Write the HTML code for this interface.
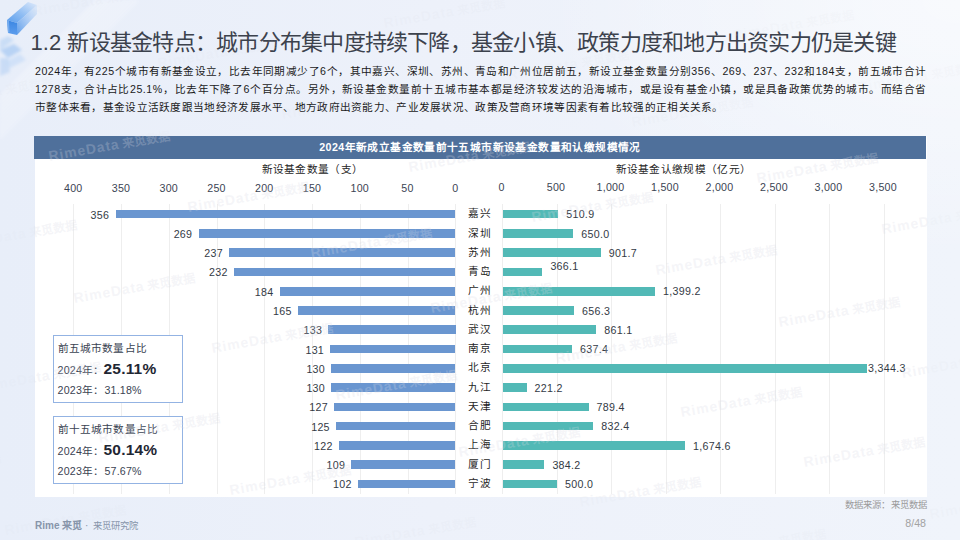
<!DOCTYPE html><html lang="zh-CN"><head><meta charset="utf-8"><style>
*{margin:0;padding:0;box-sizing:border-box}
html,body{width:960px;height:540px;overflow:hidden}
body{position:relative;font-family:"Liberation Sans",sans-serif;color:#262626;
 background:radial-gradient(ellipse 420px 260px at 960px 0px,rgba(255,255,255,0.55),rgba(255,255,255,0)),linear-gradient(90deg,#e8eef9 0%,#edf1fa 45%,#f0f4fb 100%);}
.a{position:absolute;white-space:nowrap}
.t{font-size:22px;color:#3c424d;line-height:1;letter-spacing:-0.76px}
.p{font-size:10.67px;color:#1a1a1a;line-height:18px;left:35px;width:891px;text-align:justify;text-align-last:justify}
.d{letter-spacing:0.5px}
.panel{left:35px;top:136px;width:892px;height:361px;background:#fff}
.hdr{left:34px;top:136px;width:892px;height:23px;background:#4f709b;color:#fff;font-weight:bold;font-size:10.67px;line-height:23px;text-align:center;letter-spacing:0.39px}
.ax{font-size:10.67px;color:#262626;line-height:1;letter-spacing:0.33px}
.tk{font-size:10.67px;color:#3b4453;line-height:1;text-align:center;width:40px;letter-spacing:0.3px}
.gl{width:1px;background:#eeeeee;top:204px;height:290px}
.lb{background:#6a96d0;height:8.6px}
.rb{background:#52b9b6;height:8.6px}
.vl{font-size:10.67px;color:#333a45;line-height:1;letter-spacing:0.3px}
.ct{font-size:10.67px;color:#1f1f1f;line-height:1;width:40px;text-align:center;letter-spacing:1px}
.box{left:52.5px;width:130px;height:67.5px;background:#fff;border:1px solid #93b3e3}
.bx{font-size:10.67px;color:#3a4352;line-height:1;letter-spacing:0.2px}
.wm{font-size:14px;line-height:14px;color:rgba(215,218,228,0.27);transform:rotate(-10deg);transform-origin:0 100%;letter-spacing:0.9px;font-weight:bold}.wmo .wm{color:rgba(215,218,228,0.1)}.wm span{font-size:12px;letter-spacing:0.3px;margin-left:3px}
.big{font-size:15.5px;font-weight:bold;color:#1f2733;letter-spacing:0.2px}
</style></head><body>
<svg class="a" style="left:0;top:0" width="140" height="140" viewBox="0 0 140 140">
<defs>
<linearGradient id="gt" x1="0" y1="1" x2="1" y2="0"><stop offset="0" stop-color="#5a9deb"/><stop offset="0.45" stop-color="#8fbdf3"/><stop offset="1" stop-color="#dfeafb"/></linearGradient>
<linearGradient id="gf" x1="0" y1="0" x2="0" y2="1"><stop offset="0" stop-color="#3b86e2"/><stop offset="1" stop-color="#5d9ded"/></linearGradient>
<linearGradient id="gs" x1="0" y1="1" x2="1" y2="0"><stop offset="0" stop-color="#5c9cea"/><stop offset="1" stop-color="#d8e7fb" stop-opacity="0.6"/></linearGradient>
<linearGradient id="gw" x1="0" y1="0" x2="1" y2="1"><stop offset="0" stop-color="#ffffff" stop-opacity="0.7"/><stop offset="1" stop-color="#ffffff" stop-opacity="0"/></linearGradient>
<filter id="bl"><feGaussianBlur stdDeviation="1.5"/></filter>
<filter id="bl2"><feGaussianBlur stdDeviation="0.35"/></filter>
</defs>
<polygon points="0,95 95,0 140,0 0,140" fill="url(#gw)" opacity="0.5" filter="url(#bl)"/>
<g filter="url(#bl)">
<polygon points="0,40 8,36 14,40 0,50" fill="#bcd5f5" opacity="0.7"/>
<polygon points="0,50 14,44 22,50 8,58" fill="#a8c9f3" opacity="0.75"/>
<polygon points="0,58 8,58 10,72 0,76" fill="#b5d0f4" opacity="0.6"/>
<polygon points="4,62 20,54 26,60 10,68" fill="#c2d9f6" opacity="0.6"/>
</g>
<g filter="url(#bl2)">
<polygon points="7,20 28,2 37,5 17,23" fill="url(#gt)"/>
<polygon points="17,23 37,5 37,14 17,35" fill="url(#gs)"/>
<polygon points="7,20 17,23 17,35 8,33" fill="url(#gf)"/>
<polygon points="7,20 9,21 9.5,32 8,33" fill="#7fb3f0" opacity="0.8"/>
</g>
</svg>
<div class="a t" style="left:30.5px;top:31.5px"><span style="letter-spacing:0.05px">1.2 </span>新设基金特点：城市分布集中度持续下降，基金小镇、政策力度和地方出资实力仍是关键</div>
<div class="a p" style="top:62.0px"><span class="d">2024</span>年，有<span class="d">225</span>个城市有新基金设立，比去年同期减少了<span class="d">6</span>个，其中嘉兴、深圳、苏州、青岛和广州位居前五，新设立基金数量分别<span class="d">356</span>、<span class="d">269</span>、<span class="d">237</span>、<span class="d">232</span>和<span class="d">184</span>支，前五城市合计</div>
<div class="a p" style="top:80.0px"><span class="d">1278</span>支，合计占比<span class="d">25.1%</span>，比去年下降了<span class="d">6</span>个百分点。另外，新设基金数量前十五城市基本都是经济较发达的沿海城市，或是设有基金小镇，或是具备政策优势的城市。而结合省</div>
<div class="a p" style="top:98.0px;text-align-last:left;letter-spacing:0.29px">市整体来看，基金设立活跃度跟当地经济发展水平、地方政府出资能力、产业发展状况、政策及营商环境等因素有着比较强的正相关关系。</div>
<div class="a panel"></div>
<div class="a hdr">2024年新成立基金数量前十五城市新设基金数量和认缴规模情况</div>
<div class="a ax" style="left:261.5px;top:164px">新设基金数量（支）</div>
<div class="a ax" style="left:615.5px;top:163.5px">新设基金认缴规模（亿元）</div>
<div class="a gl" style="left:73px"></div>
<div class="a tk" style="left:53.25px;top:183px">400</div>
<div class="a gl" style="left:121px"></div>
<div class="a tk" style="left:101.00px;top:183px">350</div>
<div class="a gl" style="left:169px"></div>
<div class="a tk" style="left:148.75px;top:183px">300</div>
<div class="a gl" style="left:217px"></div>
<div class="a tk" style="left:196.50px;top:183px">250</div>
<div class="a gl" style="left:264px"></div>
<div class="a tk" style="left:244.25px;top:183px">200</div>
<div class="a gl" style="left:312px"></div>
<div class="a tk" style="left:292.00px;top:183px">150</div>
<div class="a gl" style="left:360px"></div>
<div class="a tk" style="left:339.75px;top:183px">100</div>
<div class="a gl" style="left:408px"></div>
<div class="a tk" style="left:387.50px;top:183px">50</div>
<div class="a gl" style="left:455px"></div>
<div class="a tk" style="left:435.25px;top:183px">0</div>
<div class="a gl" style="left:502px"></div>
<div class="a tk" style="left:481.50px;top:182.3px">0</div>
<div class="a gl" style="left:557px"></div>
<div class="a tk" style="left:536.00px;top:182.3px">500</div>
<div class="a gl" style="left:611px"></div>
<div class="a tk" style="left:590.50px;top:182.3px">1,000</div>
<div class="a gl" style="left:666px"></div>
<div class="a tk" style="left:645.00px;top:182.3px">1,500</div>
<div class="a gl" style="left:720px"></div>
<div class="a tk" style="left:699.50px;top:182.3px">2,000</div>
<div class="a gl" style="left:775px"></div>
<div class="a tk" style="left:754.00px;top:182.3px">2,500</div>
<div class="a gl" style="left:829px"></div>
<div class="a tk" style="left:808.50px;top:182.3px">3,000</div>
<div class="a gl" style="left:884px"></div>
<div class="a tk" style="left:863.00px;top:182.3px">3,500</div>
<div class="a lb" style="left:115.52px;top:209.90px;width:339.98px"></div>
<div class="a vl" style="right:850.78px;top:209.70px">356</div>
<div class="a ct" style="left:459.50px;top:208.30px">嘉兴</div>
<div class="a rb" style="left:502.50px;top:209.90px;width:55.69px"></div>
<div class="a vl" style="left:566.19px;top:209.40px">510.9</div>
<div class="a lb" style="left:198.61px;top:229.16px;width:256.89px"></div>
<div class="a vl" style="right:767.69px;top:228.96px">269</div>
<div class="a ct" style="left:459.50px;top:227.56px">深圳</div>
<div class="a rb" style="left:502.50px;top:229.16px;width:70.85px"></div>
<div class="a vl" style="left:581.35px;top:228.66px">650.0</div>
<div class="a lb" style="left:229.17px;top:248.42px;width:226.33px"></div>
<div class="a vl" style="right:737.13px;top:248.22px">237</div>
<div class="a ct" style="left:459.50px;top:246.82px">苏州</div>
<div class="a rb" style="left:502.50px;top:248.42px;width:98.29px"></div>
<div class="a vl" style="left:608.79px;top:247.92px">901.7</div>
<div class="a lb" style="left:233.94px;top:267.68px;width:221.56px"></div>
<div class="a vl" style="right:732.36px;top:267.48px">232</div>
<div class="a ct" style="left:459.50px;top:266.08px">青岛</div>
<div class="a rb" style="left:502.50px;top:267.68px;width:39.90px"></div>
<div class="a vl" style="left:550.40px;top:261.18px">366.1</div>
<div class="a lb" style="left:279.78px;top:286.94px;width:175.72px"></div>
<div class="a vl" style="right:686.52px;top:286.74px">184</div>
<div class="a ct" style="left:459.50px;top:285.34px">广州</div>
<div class="a rb" style="left:502.50px;top:286.94px;width:152.51px"></div>
<div class="a vl" style="left:663.01px;top:286.44px">1,399.2</div>
<div class="a lb" style="left:297.93px;top:306.20px;width:157.57px"></div>
<div class="a vl" style="right:668.38px;top:306.00px">165</div>
<div class="a ct" style="left:459.50px;top:304.60px">杭州</div>
<div class="a rb" style="left:502.50px;top:306.20px;width:71.54px"></div>
<div class="a vl" style="left:582.04px;top:305.70px">656.3</div>
<div class="a lb" style="left:328.49px;top:325.46px;width:127.02px"></div>
<div class="a vl" style="right:637.81px;top:325.26px">133</div>
<div class="a ct" style="left:459.50px;top:323.86px">武汉</div>
<div class="a rb" style="left:502.50px;top:325.46px;width:93.86px"></div>
<div class="a vl" style="left:604.36px;top:324.96px">861.1</div>
<div class="a lb" style="left:330.39px;top:344.72px;width:125.10px"></div>
<div class="a vl" style="right:635.90px;top:344.52px">131</div>
<div class="a ct" style="left:459.50px;top:343.12px">南京</div>
<div class="a rb" style="left:502.50px;top:344.72px;width:69.48px"></div>
<div class="a vl" style="left:579.98px;top:344.22px">637.4</div>
<div class="a lb" style="left:331.35px;top:363.98px;width:124.15px"></div>
<div class="a vl" style="right:634.95px;top:363.78px">130</div>
<div class="a ct" style="left:459.50px;top:362.38px">北京</div>
<div class="a rb" style="left:502.50px;top:363.98px;width:364.53px"></div>
<div class="a vl" style="left:868.03px;top:363.48px">3,344.3</div>
<div class="a lb" style="left:331.35px;top:383.24px;width:124.15px"></div>
<div class="a vl" style="right:634.95px;top:383.04px">130</div>
<div class="a ct" style="left:459.50px;top:381.64px">九江</div>
<div class="a rb" style="left:502.50px;top:383.24px;width:24.11px"></div>
<div class="a vl" style="left:534.61px;top:382.74px">221.2</div>
<div class="a lb" style="left:334.22px;top:402.50px;width:121.28px"></div>
<div class="a vl" style="right:632.08px;top:402.30px">127</div>
<div class="a ct" style="left:459.50px;top:400.90px">天津</div>
<div class="a rb" style="left:502.50px;top:402.50px;width:86.04px"></div>
<div class="a vl" style="left:596.54px;top:402.00px">789.4</div>
<div class="a lb" style="left:336.12px;top:421.76px;width:119.38px"></div>
<div class="a vl" style="right:630.17px;top:421.56px">125</div>
<div class="a ct" style="left:459.50px;top:420.16px">合肥</div>
<div class="a rb" style="left:502.50px;top:421.76px;width:90.73px"></div>
<div class="a vl" style="left:601.23px;top:421.26px">832.4</div>
<div class="a lb" style="left:338.99px;top:441.02px;width:116.51px"></div>
<div class="a vl" style="right:627.31px;top:440.82px">122</div>
<div class="a ct" style="left:459.50px;top:439.42px">上海</div>
<div class="a rb" style="left:502.50px;top:441.02px;width:182.53px"></div>
<div class="a vl" style="left:693.03px;top:440.52px">1,674.6</div>
<div class="a lb" style="left:351.40px;top:460.28px;width:104.09px"></div>
<div class="a vl" style="right:614.89px;top:460.08px">109</div>
<div class="a ct" style="left:459.50px;top:458.68px">厦门</div>
<div class="a rb" style="left:502.50px;top:460.28px;width:41.88px"></div>
<div class="a vl" style="left:552.38px;top:459.78px">384.2</div>
<div class="a lb" style="left:358.09px;top:479.54px;width:97.41px"></div>
<div class="a vl" style="right:608.21px;top:479.34px">102</div>
<div class="a ct" style="left:459.50px;top:477.94px">宁波</div>
<div class="a rb" style="left:502.50px;top:479.54px;width:54.50px"></div>
<div class="a vl" style="left:565.00px;top:479.04px">500.0</div>
<div class="a box" style="top:335.3px"></div>
<div class="a bx" style="left:57.5px;top:343.1px">前五城市数量占比</div>
<div class="a bx" style="left:57.5px;top:365.1px">2024年：</div>
<div class="a big" style="left:103.5px;top:361.1px;line-height:1">25.11%</div>
<div class="a bx" style="left:57.5px;top:384.6px">2023年：31.18%</div>
<div class="a box" style="top:416.3px"></div>
<div class="a bx" style="left:57.5px;top:424.1px">前十五城市数量占比</div>
<div class="a bx" style="left:57.5px;top:446.1px">2024年：</div>
<div class="a big" style="left:103.5px;top:442.1px;line-height:1">50.14%</div>
<div class="a bx" style="left:57.5px;top:465.6px">2023年：57.67%</div>
<div class="a" style="left:0;top:0;width:960px;height:540px;clip-path:inset(136px 33px 43px 34px)"><div class="a wm" style="left:33.9px;top:4.3px">RimeData<span>来觅数据</span></div><div class="a wm" style="left:-66.8px;top:95.3px">RimeData<span>来觅数据</span></div><div class="a wm" style="left:158.6px;top:55.7px">RimeData<span>来觅数据</span></div><div class="a wm" style="left:385.0px;top:16.0px">RimeData<span>来觅数据</span></div><div class="a wm" style="left:50.0px;top:149.0px">RimeData<span>来觅数据</span></div><div class="a wm" style="left:283.3px;top:107.2px">RimeData<span>来觅数据</span></div><div class="a wm" style="left:508.7px;top:67.6px">RimeData<span>来觅数据</span></div><div class="a wm" style="left:734.1px;top:28.0px">RimeData<span>来觅数据</span></div><div class="a wm" style="left:959.5px;top:-11.6px">RimeData<span>来觅数据</span></div><div class="a wm" style="left:-42.7px;top:237.8px">RimeData<span>来觅数据</span></div><div class="a wm" style="left:189.0px;top:200.0px">RimeData<span>来觅数据</span></div><div class="a wm" style="left:410.0px;top:160.0px">RimeData<span>来觅数据</span></div><div class="a wm" style="left:633.0px;top:115.0px">RimeData<span>来觅数据</span></div><div class="a wm" style="left:858.9px;top:79.5px">RimeData<span>来觅数据</span></div><div class="a wm" style="left:75.0px;top:291.0px">RimeData<span>来觅数据</span></div><div class="a wm" style="left:312.0px;top:246.0px">RimeData<span>来觅数据</span></div><div class="a wm" style="left:533.0px;top:210.0px">RimeData<span>来觅数据</span></div><div class="a wm" style="left:758.2px;top:170.5px">RimeData<span>来觅数据</span></div><div class="a wm" style="left:-18.6px;top:380.3px">RimeData<span>来觅数据</span></div><div class="a wm" style="left:213.0px;top:341.0px">RimeData<span>来觅数据</span></div><div class="a wm" style="left:432.2px;top:301.1px">RimeData<span>来觅数据</span></div><div class="a wm" style="left:657.0px;top:263.0px">RimeData<span>来觅数据</span></div><div class="a wm" style="left:883.0px;top:221.9px">RimeData<span>来觅数据</span></div><div class="a wm" style="left:-119.2px;top:471.3px">RimeData<span>来觅数据</span></div><div class="a wm" style="left:100.0px;top:431.0px">RimeData<span>来觅数据</span></div><div class="a wm" style="left:337.0px;top:388.0px">RimeData<span>来觅数据</span></div><div class="a wm" style="left:557.0px;top:351.0px">RimeData<span>来觅数据</span></div><div class="a wm" style="left:780.0px;top:315.0px">RimeData<span>来觅数据</span></div><div class="a wm" style="left:5.5px;top:522.7px">RimeData<span>来觅数据</span></div><div class="a wm" style="left:230.9px;top:483.2px">RimeData<span>来觅数据</span></div><div class="a wm" style="left:460.0px;top:445.0px">RimeData<span>来觅数据</span></div><div class="a wm" style="left:682.0px;top:405.0px">RimeData<span>来觅数据</span></div><div class="a wm" style="left:903.0px;top:366.0px">RimeData<span>来觅数据</span></div><div class="a wm" style="left:355.6px;top:534.6px">RimeData<span>来觅数据</span></div><div class="a wm" style="left:581.0px;top:495.0px">RimeData<span>来觅数据</span></div><div class="a wm" style="left:805.0px;top:455.0px">RimeData<span>来觅数据</span></div><div class="a wm" style="left:705.7px;top:546.5px">RimeData<span>来觅数据</span></div><div class="a wm" style="left:931.1px;top:506.9px">RimeData<span>来觅数据</span></div></div>
<div class="a wmo" style="left:0;top:0;width:960px;height:540px;clip-path:path(evenodd, 'M0 0H960V540H0Z M34 136H927V497H34Z')"><div class="a wm" style="left:33.9px;top:4.3px">RimeData<span>来觅数据</span></div><div class="a wm" style="left:-66.8px;top:95.3px">RimeData<span>来觅数据</span></div><div class="a wm" style="left:158.6px;top:55.7px">RimeData<span>来觅数据</span></div><div class="a wm" style="left:385.0px;top:16.0px">RimeData<span>来觅数据</span></div><div class="a wm" style="left:50.0px;top:149.0px">RimeData<span>来觅数据</span></div><div class="a wm" style="left:283.3px;top:107.2px">RimeData<span>来觅数据</span></div><div class="a wm" style="left:508.7px;top:67.6px">RimeData<span>来觅数据</span></div><div class="a wm" style="left:734.1px;top:28.0px">RimeData<span>来觅数据</span></div><div class="a wm" style="left:959.5px;top:-11.6px">RimeData<span>来觅数据</span></div><div class="a wm" style="left:-42.7px;top:237.8px">RimeData<span>来觅数据</span></div><div class="a wm" style="left:189.0px;top:200.0px">RimeData<span>来觅数据</span></div><div class="a wm" style="left:410.0px;top:160.0px">RimeData<span>来觅数据</span></div><div class="a wm" style="left:633.0px;top:115.0px">RimeData<span>来觅数据</span></div><div class="a wm" style="left:858.9px;top:79.5px">RimeData<span>来觅数据</span></div><div class="a wm" style="left:75.0px;top:291.0px">RimeData<span>来觅数据</span></div><div class="a wm" style="left:312.0px;top:246.0px">RimeData<span>来觅数据</span></div><div class="a wm" style="left:533.0px;top:210.0px">RimeData<span>来觅数据</span></div><div class="a wm" style="left:758.2px;top:170.5px">RimeData<span>来觅数据</span></div><div class="a wm" style="left:-18.6px;top:380.3px">RimeData<span>来觅数据</span></div><div class="a wm" style="left:213.0px;top:341.0px">RimeData<span>来觅数据</span></div><div class="a wm" style="left:432.2px;top:301.1px">RimeData<span>来觅数据</span></div><div class="a wm" style="left:657.0px;top:263.0px">RimeData<span>来觅数据</span></div><div class="a wm" style="left:883.0px;top:221.9px">RimeData<span>来觅数据</span></div><div class="a wm" style="left:-119.2px;top:471.3px">RimeData<span>来觅数据</span></div><div class="a wm" style="left:100.0px;top:431.0px">RimeData<span>来觅数据</span></div><div class="a wm" style="left:337.0px;top:388.0px">RimeData<span>来觅数据</span></div><div class="a wm" style="left:557.0px;top:351.0px">RimeData<span>来觅数据</span></div><div class="a wm" style="left:780.0px;top:315.0px">RimeData<span>来觅数据</span></div><div class="a wm" style="left:5.5px;top:522.7px">RimeData<span>来觅数据</span></div><div class="a wm" style="left:230.9px;top:483.2px">RimeData<span>来觅数据</span></div><div class="a wm" style="left:460.0px;top:445.0px">RimeData<span>来觅数据</span></div><div class="a wm" style="left:682.0px;top:405.0px">RimeData<span>来觅数据</span></div><div class="a wm" style="left:903.0px;top:366.0px">RimeData<span>来觅数据</span></div><div class="a wm" style="left:355.6px;top:534.6px">RimeData<span>来觅数据</span></div><div class="a wm" style="left:581.0px;top:495.0px">RimeData<span>来觅数据</span></div><div class="a wm" style="left:805.0px;top:455.0px">RimeData<span>来觅数据</span></div><div class="a wm" style="left:705.7px;top:546.5px">RimeData<span>来觅数据</span></div><div class="a wm" style="left:931.1px;top:506.9px">RimeData<span>来觅数据</span></div></div>
<div class="a" style="right:33px;top:500.5px;font-size:9.33px;color:#9a9a9a;line-height:1;letter-spacing:0.1px">数据来源：来觅数据</div>
<div class="a" style="right:34px;top:518px;font-size:10.67px;color:#a3a3a3;line-height:1">8/48</div>
<div class="a" style="left:35px;top:520.5px;font-size:10px;color:#8795aa;line-height:1"><b>Rime 来觅</b> · <span style="font-size:9.33px;margin-left:2px">来觅研究院</span></div>
</body></html>
